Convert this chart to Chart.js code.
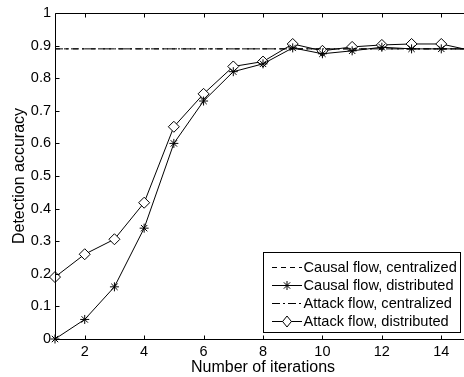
<!DOCTYPE html>
<html>
<head>
<meta charset="utf-8">
<script src="https://cdn.jsdelivr.net/npm/chart.js@4/dist/chart.umd.min.js"></script>
<style>
    html, body { margin: 0; padding: 0; background: #fff; overflow: hidden; }
    #wrap { width: 464px; height: 377px; overflow: hidden; }
</style>
</head>
<body>
<div id="wrap"><canvas id="accuracyChart" width="480" height="377"></canvas></div>
<script>
// Data
const iterations = [1, 2, 3, 4, 5, 6, 7, 8, 9, 10, 11, 12, 13, 14, 15];
const causalCentralized = [0.89, 0.89, 0.89, 0.89, 0.89, 0.89, 0.89, 0.89, 0.89, 0.89, 0.89, 0.89, 0.89, 0.89, 0.89];
const causalDistributed = [0, 0.06, 0.16, 0.34, 0.60, 0.73, 0.82, 0.844, 0.893, 0.875, 0.884, 0.895, 0.89, 0.89, 0.89];
const attackCentralized = [0.89, 0.89, 0.89, 0.89, 0.89, 0.89, 0.89, 0.89, 0.89, 0.89, 0.89, 0.89, 0.89, 0.89, 0.89];
const attackDistributed = [0.19, 0.26, 0.306, 0.418, 0.651, 0.752, 0.836, 0.851, 0.905, 0.884, 0.896, 0.902, 0.905, 0.905, 0.885];
const xTickLabels = [2, 4, 6, 8, 10, 12, 14];
const yTickValues = [0, 0.1, 0.2, 0.3, 0.4, 0.5, 0.6, 0.7, 0.8, 0.9, 1];

const FONT = '"Liberation Sans", Arial, Helvetica, sans-serif';
Chart.defaults.font.family = FONT;
Chart.defaults.color = '#000';

function toPoints(values) {
    return iterations.map((x, i) => ({ x: x, y: values[i] }));
}

// Draw a marker in the same style as the plot
function drawMarker(ctx, style, x, y, r) {
    ctx.save();
    ctx.setLineDash([]);
    ctx.strokeStyle = '#000';
    ctx.lineWidth = 1;
    if (style === 'star') {
        ctx.beginPath();
        for (let a = 0; a < 4; a++) {
            const ang = a * Math.PI / 4;
            ctx.moveTo(x - r * Math.cos(ang), y - r * Math.sin(ang));
            ctx.lineTo(x + r * Math.cos(ang), y + r * Math.sin(ang));
        }
        ctx.stroke();
    } else if (style === 'rectRot') {
        ctx.fillStyle = '#fff';
        ctx.beginPath();
        ctx.moveTo(x, y - r);
        ctx.lineTo(x + r * 0.8, y);
        ctx.lineTo(x, y + r);
        ctx.lineTo(x - r * 0.8, y);
        ctx.closePath();
        ctx.fill();
        ctx.stroke();
    }
    ctx.restore();
}

// Axes box, inward ticks and the boxed legend
const matlabFrame = {
    id: 'matlabFrame',
    afterDraw(chart) {
        const ctx = chart.ctx;
        const area = chart.chartArea;
        const xs = chart.scales.x;
        const ys = chart.scales.y;
        ctx.save();
        ctx.strokeStyle = '#000';
        ctx.lineWidth = 1;
        ctx.setLineDash([]);
        ctx.beginPath();
        const l = Math.round(area.left) + 0.5, t = Math.round(area.top) + 0.5;
        const b = Math.round(area.bottom) + 0.5, r = Math.round(area.right) + 0.5;
        ctx.moveTo(r, t); ctx.lineTo(l, t); ctx.lineTo(l, b); ctx.lineTo(r, b); ctx.lineTo(r, t);
        xTickLabels.forEach(v => {
            const px = Math.round(xs.getPixelForValue(v)) + 0.5;
            ctx.moveTo(px, b); ctx.lineTo(px, b - 4);
            ctx.moveTo(px, t); ctx.lineTo(px, t + 4);
        });
        yTickValues.forEach(v => {
            const py = Math.round(ys.getPixelForValue(v)) + 0.5;
            ctx.moveTo(l, py); ctx.lineTo(l + 4, py);
            ctx.moveTo(r, py); ctx.lineTo(r - 4, py);
        });
        ctx.stroke();

        // legend
        const box = { x: 263.5, y: 252.5, w: 197, h: 80 };
        ctx.fillStyle = '#fff';
        ctx.fillRect(box.x, box.y, box.w, box.h);
        ctx.strokeRect(box.x, box.y, box.w, box.h);
        ctx.font = '14.6px ' + FONT;
        ctx.fillStyle = '#000';
        ctx.textBaseline = 'middle';
        const rows = [267, 285, 303, 321];
        chart.data.datasets.forEach((ds, i) => {
            const yy = rows[i] + 0.5;
            ctx.beginPath();
            ctx.setLineDash(ds.borderDash || []);
            ctx.moveTo(272, yy);
            ctx.lineTo(302, yy);
            ctx.stroke();
            if (ds.pointRadius > 0) {
                drawMarker(ctx, ds.pointStyle, 287, yy, ds.pointRadius);
            }
            ctx.fillText(ds.label, 303.5, yy + 0.5);
        });
        ctx.restore();
    }
};

new Chart(document.getElementById('accuracyChart'), {
    type: 'line',
    data: {
        datasets: [
            {
                label: 'Causal flow, centralized',
                data: toPoints(causalCentralized),
                borderColor: '#000',
                borderWidth: 1,
                borderDash: [5, 4],
                pointRadius: 0
            },
            {
                label: 'Causal flow, distributed',
                data: toPoints(causalDistributed),
                borderColor: '#000',
                borderWidth: 1,
                pointStyle: 'star',
                pointRadius: 4.5,
                pointBorderColor: '#000',
                pointBorderWidth: 1
            },
            {
                label: 'Attack flow, centralized',
                data: toPoints(attackCentralized),
                borderColor: '#000',
                borderWidth: 1,
                borderDash: [8, 3, 2, 3],
                pointRadius: 0
            },
            {
                label: 'Attack flow, distributed',
                data: toPoints(attackDistributed),
                borderColor: '#000',
                borderWidth: 1,
                pointStyle: 'rectRot',
                pointRadius: 5.5,
                pointBackgroundColor: '#fff',
                pointBorderColor: '#000',
                pointBorderWidth: 1
            }
        ]
    },
    options: {
        responsive: false,
        animation: false,
        devicePixelRatio: 1,
        clip: false,
        layout: { padding: { top: 13, right: 9, left: 0, bottom: 0 } },
        plugins: {
            legend: { display: false },
            tooltip: { enabled: false }
        },
        elements: { line: { tension: 0 } },
        scales: {
            x: {
                type: 'linear',
                min: 1,
                max: 15,
                afterBuildTicks: scale => {
                    scale.ticks = xTickLabels.map(v => ({ value: v }));
                },
                afterFit: scale => { scale.height = 38; },
                grid: { display: false, drawTicks: false },
                border: { display: false },
                ticks: { padding: 4, font: { size: 14.5 }, maxRotation: 0, autoSkip: false },
                title: {
                    display: true,
                    text: 'Number of iterations',
                    font: { size: 16 },
                    padding: { top: 0, bottom: 0 }
                }
            },
            y: {
                min: 0,
                max: 1,
                afterBuildTicks: scale => {
                    scale.ticks = yTickValues.map(v => ({ value: v }));
                },
                afterFit: scale => { scale.width = 55; },
                grid: { display: false, drawTicks: false },
                border: { display: false },
                ticks: {
                    padding: 4,
                    font: { size: 14.5 },
                    autoSkip: false,
                    callback: v => (v === 0 || v === 1) ? String(v) : v.toFixed(1)
                },
                title: {
                    display: true,
                    text: 'Detection accuracy',
                    font: { size: 16 },
                    padding: { top: 10, bottom: 0 }
                }
            }
        }
    },
    plugins: [matlabFrame]
});
</script>
</body>
</html>
